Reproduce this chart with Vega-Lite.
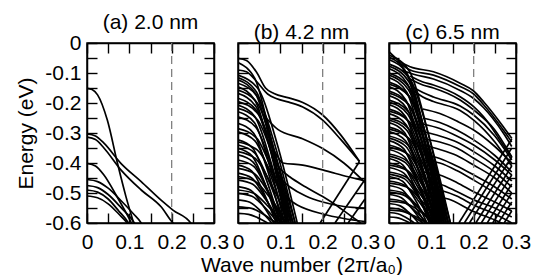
{
"$schema": "https://vega.github.io/schema/vega-lite/v6.json",
"padding": {"left": 15, "top": 11, "right": 5, "bottom": 5},
"spacing": 24,
"bounds": "flush",
"config": {
 "font": "Liberation Sans",
 "view": {"stroke": "black", "strokeWidth": 1.5},
 "axis": {"domain": true, "domainColor": "black", "domainWidth": 1.5, "ticks": true, "grid": false, "labelFont": "Liberation Sans", "labelFontSize": 21, "labelColor": "black", "tickColor": "black", "tickWidth": 1.4, "tickOpacity": 1, "titleFont": "Liberation Sans", "titleFontSize": 21, "titleFontWeight": "normal", "titleColor": "black", "labelFlush": false, "labelOverlap": false},
 "title": {"font": "Liberation Sans", "fontSize": 21, "fontWeight": "normal", "color": "black", "offset": -1}
},
"datasets": {"d": [
{"p":"a","b":1,"k":0,"e":-0.151},{"p":"a","b":1,"k":0.012,"e":-0.155},{"p":"a","b":1,"k":0.025,"e":-0.173},{"p":"a","b":1,"k":0.048,"e":-0.257},{"p":"a","b":1,"k":0.072,"e":-0.401},{"p":"a","b":1,"k":0.092,"e":-0.512},{"p":"a","b":1,"k":0.11,"e":-0.6},{"p":"a","b":1,"k":0.114,"e":-0.62},
{"p":"a","b":2,"k":0,"e":-0.303},{"p":"a","b":2,"k":0.02,"e":-0.31},{"p":"a","b":2,"k":0.04,"e":-0.334},{"p":"a","b":2,"k":0.08,"e":-0.401},{"p":"a","b":2,"k":0.128,"e":-0.462},{"p":"a","b":2,"k":0.175,"e":-0.524},{"p":"a","b":2,"k":0.203,"e":-0.557},{"p":"a","b":2,"k":0.245,"e":-0.6},{"p":"a","b":2,"k":0.25,"e":-0.61},
{"p":"a","b":3,"k":0,"e":-0.314},{"p":"a","b":3,"k":0.02,"e":-0.322},{"p":"a","b":3,"k":0.04,"e":-0.35},{"p":"a","b":3,"k":0.08,"e":-0.423},{"p":"a","b":3,"k":0.128,"e":-0.49},{"p":"a","b":3,"k":0.175,"e":-0.546},{"p":"a","b":3,"k":0.203,"e":-0.6},{"p":"a","b":3,"k":0.21,"e":-0.61},
{"p":"a","b":4,"k":0,"e":-0.401},{"p":"a","b":4,"k":0.02,"e":-0.41},{"p":"a","b":4,"k":0.04,"e":-0.44},{"p":"a","b":4,"k":0.07,"e":-0.51},{"p":"a","b":4,"k":0.09,"e":-0.56},{"p":"a","b":4,"k":0.105,"e":-0.6},{"p":"a","b":4,"k":0.11,"e":-0.615},
{"p":"a","b":5,"k":0,"e":-0.455},{"p":"a","b":5,"k":0.025,"e":-0.462},{"p":"a","b":5,"k":0.05,"e":-0.484},{"p":"a","b":5,"k":0.08,"e":-0.525},{"p":"a","b":5,"k":0.11,"e":-0.57},{"p":"a","b":5,"k":0.128,"e":-0.6},{"p":"a","b":5,"k":0.132,"e":-0.61},
{"p":"a","b":6,"k":0,"e":-0.475},{"p":"a","b":6,"k":0.025,"e":-0.482},{"p":"a","b":6,"k":0.05,"e":-0.505},{"p":"a","b":6,"k":0.08,"e":-0.548},{"p":"a","b":6,"k":0.112,"e":-0.6},{"p":"a","b":6,"k":0.116,"e":-0.61},
{"p":"a","b":7,"k":0,"e":-0.49},{"p":"a","b":7,"k":0.025,"e":-0.497},{"p":"a","b":7,"k":0.05,"e":-0.52},{"p":"a","b":7,"k":0.075,"e":-0.56},{"p":"a","b":7,"k":0.098,"e":-0.6},{"p":"a","b":7,"k":0.102,"e":-0.61},
{"p":"a","b":8,"k":0,"e":-0.51},{"p":"a","b":8,"k":0.025,"e":-0.516},{"p":"a","b":8,"k":0.05,"e":-0.536},{"p":"a","b":8,"k":0.075,"e":-0.57},{"p":"a","b":8,"k":0.095,"e":-0.6},{"p":"a","b":8,"k":0.1,"e":-0.61},

{"p":"b","b":1,"k":0,"e":-0.051},{"p":"b","b":1,"k":0.02,"e":-0.058},{"p":"b","b":1,"k":0.045,"e":-0.1},{"p":"b","b":1,"k":0.065,"e":-0.15},{"p":"b","b":1,"k":0.085,"e":-0.168},{"p":"b","b":1,"k":0.12,"e":-0.183},{"p":"b","b":1,"k":0.153,"e":-0.198},{"p":"b","b":1,"k":0.2,"e":-0.24},{"p":"b","b":1,"k":0.243,"e":-0.307},{"p":"b","b":1,"k":0.287,"e":-0.395},
{"p":"b","b":2,"k":0,"e":-0.09},{"p":"b","b":2,"k":0.02,"e":-0.096},{"p":"b","b":2,"k":0.045,"e":-0.13},{"p":"b","b":2,"k":0.07,"e":-0.17},{"p":"b","b":2,"k":0.09,"e":-0.185},{"p":"b","b":2,"k":0.12,"e":-0.197},{"p":"b","b":2,"k":0.153,"e":-0.213},{"p":"b","b":2,"k":0.2,"e":-0.257},{"p":"b","b":2,"k":0.243,"e":-0.322},{"p":"b","b":2,"k":0.287,"e":-0.395},
{"p":"b","b":3,"k":0,"e":-0.107},{"p":"b","b":3,"k":0.049,"e":-0.156},{"p":"b","b":3,"k":0.091,"e":-0.329},{"p":"b","b":3,"k":0.14,"e":-0.6},
{"p":"b","b":4,"k":0,"e":-0.123},{"p":"b","b":4,"k":0.042,"e":-0.171},{"p":"b","b":4,"k":0.078,"e":-0.338},{"p":"b","b":4,"k":0.12,"e":-0.6},
{"p":"b","b":5,"k":0,"e":-0.134},{"p":"b","b":5,"k":0.047,"e":-0.181},{"p":"b","b":5,"k":0.088,"e":-0.344},{"p":"b","b":5,"k":0.135,"e":-0.6},
{"p":"b","b":6,"k":0,"e":-0.146},{"p":"b","b":6,"k":0.04,"e":-0.191},{"p":"b","b":6,"k":0.075,"e":-0.35},{"p":"b","b":6,"k":0.115,"e":-0.6},
{"p":"b","b":7,"k":0,"e":-0.157},{"p":"b","b":7,"k":0.046,"e":-0.201},{"p":"b","b":7,"k":0.085,"e":-0.356},{"p":"b","b":7,"k":0.13,"e":-0.6},
{"p":"b","b":8,"k":0,"e":-0.168},{"p":"b","b":8,"k":0.042,"e":-0.211},{"p":"b","b":8,"k":0.078,"e":-0.362},{"p":"b","b":8,"k":0.12,"e":-0.6},
{"p":"b","b":9,"k":0,"e":-0.184},{"p":"b","b":9,"k":0.044,"e":-0.226},{"p":"b","b":9,"k":0.081,"e":-0.371},{"p":"b","b":9,"k":0.125,"e":-0.6},
{"p":"b","b":10,"k":0,"e":-0.207},{"p":"b","b":10,"k":0.04,"e":-0.246},{"p":"b","b":10,"k":0.075,"e":-0.384},{"p":"b","b":10,"k":0.115,"e":-0.6},
{"p":"b","b":11,"k":0,"e":-0.218},{"p":"b","b":11,"k":0.046,"e":-0.256},{"p":"b","b":11,"k":0.085,"e":-0.39},{"p":"b","b":11,"k":0.13,"e":-0.6},
{"p":"b","b":12,"k":0,"e":-0.229},{"p":"b","b":12,"k":0.039,"e":-0.266},{"p":"b","b":12,"k":0.072,"e":-0.396},{"p":"b","b":12,"k":0.11,"e":-0.6},
{"p":"b","b":13,"k":0,"e":-0.246},{"p":"b","b":13,"k":0.042,"e":-0.281},{"p":"b","b":13,"k":0.078,"e":-0.405},{"p":"b","b":13,"k":0.12,"e":-0.6},
{"p":"b","b":14,"k":0,"e":-0.268},{"p":"b","b":14,"k":0.037,"e":-0.301},{"p":"b","b":14,"k":0.068,"e":-0.417},{"p":"b","b":14,"k":0.105,"e":-0.6},
{"p":"b","b":15,"k":0,"e":-0.296},{"p":"b","b":15,"k":0.04,"e":-0.326},{"p":"b","b":15,"k":0.075,"e":-0.433},{"p":"b","b":15,"k":0.115,"e":-0.6},
{"p":"b","b":16,"k":0,"e":-0.323},{"p":"b","b":16,"k":0.035,"e":-0.351},{"p":"b","b":16,"k":0.065,"e":-0.448},{"p":"b","b":16,"k":0.1,"e":-0.6},
{"p":"b","b":17,"k":0,"e":-0.34},{"p":"b","b":17,"k":0.039,"e":-0.366},{"p":"b","b":17,"k":0.072,"e":-0.457},{"p":"b","b":17,"k":0.11,"e":-0.6},
{"p":"b","b":18,"k":0,"e":-0.351},{"p":"b","b":18,"k":0.033,"e":-0.376},{"p":"b","b":18,"k":0.062,"e":-0.463},{"p":"b","b":18,"k":0.095,"e":-0.6},
{"p":"b","b":19,"k":0,"e":-0.362},{"p":"b","b":19,"k":0.042,"e":-0.386},{"p":"b","b":19,"k":0.078,"e":-0.469},{"p":"b","b":19,"k":0.12,"e":-0.6},
{"p":"b","b":20,"k":0,"e":-0.373},{"p":"b","b":20,"k":0.035,"e":-0.396},{"p":"b","b":20,"k":0.065,"e":-0.475},{"p":"b","b":20,"k":0.1,"e":-0.6},
{"p":"b","b":21,"k":0,"e":-0.39},{"p":"b","b":21,"k":0.037,"e":-0.411},{"p":"b","b":21,"k":0.068,"e":-0.485},{"p":"b","b":21,"k":0.105,"e":-0.6},
{"p":"b","b":22,"k":0,"e":-0.407},{"p":"b","b":22,"k":0.032,"e":-0.426},{"p":"b","b":22,"k":0.059,"e":-0.494},{"p":"b","b":22,"k":0.09,"e":-0.6},
{"p":"b","b":23,"k":0,"e":-0.418},{"p":"b","b":23,"k":0.039,"e":-0.436},{"p":"b","b":23,"k":0.072,"e":-0.5},{"p":"b","b":23,"k":0.11,"e":-0.6},
{"p":"b","b":24,"k":0,"e":-0.434},{"p":"b","b":24,"k":0.033,"e":-0.451},{"p":"b","b":24,"k":0.062,"e":-0.509},{"p":"b","b":24,"k":0.095,"e":-0.6},
{"p":"b","b":25,"k":0,"e":-0.457},{"p":"b","b":25,"k":0.035,"e":-0.471},{"p":"b","b":25,"k":0.065,"e":-0.521},{"p":"b","b":25,"k":0.1,"e":-0.6},
{"p":"b","b":26,"k":0,"e":-0.479},{"p":"b","b":26,"k":0.03,"e":-0.491},{"p":"b","b":26,"k":0.055,"e":-0.533},{"p":"b","b":26,"k":0.085,"e":-0.6},
{"p":"b","b":27,"k":0,"e":-0.501},{"p":"b","b":27,"k":0.033,"e":-0.511},{"p":"b","b":27,"k":0.062,"e":-0.546},{"p":"b","b":27,"k":0.095,"e":-0.6},
{"p":"b","b":28,"k":0,"e":-0.523},{"p":"b","b":28,"k":0.028,"e":-0.531},{"p":"b","b":28,"k":0.052,"e":-0.558},{"p":"b","b":28,"k":0.08,"e":-0.6},
{"p":"b","b":29,"k":0,"e":-0.546},{"p":"b","b":29,"k":0.032,"e":-0.551},{"p":"b","b":29,"k":0.059,"e":-0.57},{"p":"b","b":29,"k":0.09,"e":-0.6},
{"p":"b","b":30,"k":0,"e":-0.568},{"p":"b","b":30,"k":0.025,"e":-0.571},{"p":"b","b":30,"k":0.046,"e":-0.582},{"p":"b","b":30,"k":0.07,"e":-0.6},
{"p":"b","b":51,"k":0,"e":-0.065},{"p":"b","b":51,"k":0.04,"e":-0.119},{"p":"b","b":51,"k":0.075,"e":-0.306},{"p":"b","b":51,"k":0.115,"e":-0.6},
{"p":"b","b":52,"k":0,"e":-0.115},{"p":"b","b":52,"k":0.044,"e":-0.164},{"p":"b","b":52,"k":0.081,"e":-0.333},{"p":"b","b":52,"k":0.125,"e":-0.6},
{"p":"b","b":53,"k":0,"e":-0.195},{"p":"b","b":53,"k":0.047,"e":-0.236},{"p":"b","b":53,"k":0.088,"e":-0.377},{"p":"b","b":53,"k":0.135,"e":-0.6},
{"p":"b","b":54,"k":0,"e":-0.285},{"p":"b","b":54,"k":0.044,"e":-0.317},{"p":"b","b":54,"k":0.081,"e":-0.427},{"p":"b","b":54,"k":0.125,"e":-0.6},
{"p":"b","b":55,"k":0,"e":-0.33},{"p":"b","b":55,"k":0.046,"e":-0.357},{"p":"b","b":55,"k":0.085,"e":-0.452},{"p":"b","b":55,"k":0.13,"e":-0.6},
{"p":"b","b":56,"k":0,"e":-0.445},{"p":"b","b":56,"k":0.04,"e":-0.461},{"p":"b","b":56,"k":0.075,"e":-0.515},{"p":"b","b":56,"k":0.115,"e":-0.6},
{"p":"b","b":57,"k":0,"e":-0.49},{"p":"b","b":57,"k":0.037,"e":-0.501},{"p":"b","b":57,"k":0.068,"e":-0.54},{"p":"b","b":57,"k":0.105,"e":-0.6},
{"p":"b","b":40,"k":0.194,"e":-0.6},{"p":"b","b":40,"k":0.287,"e":-0.395},
{"p":"b","b":41,"k":0.06,"e":-0.24},{"p":"b","b":41,"k":0.094,"e":-0.288},{"p":"b","b":41,"k":0.15,"e":-0.318},{"p":"b","b":41,"k":0.2,"e":-0.352},{"p":"b","b":41,"k":0.25,"e":-0.4},{"p":"b","b":41,"k":0.3,"e":-0.465},
{"p":"b","b":42,"k":0.07,"e":-0.32},{"p":"b","b":42,"k":0.09,"e":-0.37},{"p":"b","b":42,"k":0.106,"e":-0.4},{"p":"b","b":42,"k":0.153,"e":-0.407},{"p":"b","b":42,"k":0.2,"e":-0.423},{"p":"b","b":42,"k":0.26,"e":-0.446},{"p":"b","b":42,"k":0.3,"e":-0.46},
{"p":"b","b":43,"k":0.08,"e":-0.38},{"p":"b","b":43,"k":0.1,"e":-0.42},{"p":"b","b":43,"k":0.122,"e":-0.446},{"p":"b","b":43,"k":0.16,"e":-0.48},{"p":"b","b":43,"k":0.2,"e":-0.512},{"p":"b","b":43,"k":0.231,"e":-0.54},{"p":"b","b":43,"k":0.27,"e":-0.58},{"p":"b","b":43,"k":0.29,"e":-0.6},
{"p":"b","b":44,"k":0.09,"e":-0.44},{"p":"b","b":44,"k":0.122,"e":-0.479},{"p":"b","b":44,"k":0.16,"e":-0.51},{"p":"b","b":44,"k":0.2,"e":-0.53},{"p":"b","b":44,"k":0.25,"e":-0.545},{"p":"b","b":44,"k":0.3,"e":-0.55},
{"p":"b","b":45,"k":0.1,"e":-0.5},{"p":"b","b":45,"k":0.14,"e":-0.54},{"p":"b","b":45,"k":0.2,"e":-0.57},{"p":"b","b":45,"k":0.25,"e":-0.585},{"p":"b","b":45,"k":0.3,"e":-0.595},
{"p":"b","b":46,"k":0.229,"e":-0.6},{"p":"b","b":46,"k":0.3,"e":-0.455},
{"p":"b","b":47,"k":0.26,"e":-0.6},{"p":"b","b":47,"k":0.3,"e":-0.52},

{"p":"c","b":1,"k":0,"e":-0.04},{"p":"c","b":1,"k":0.049,"e":-0.096},{"p":"c","b":1,"k":0.091,"e":-0.292},{"p":"c","b":1,"k":0.14,"e":-0.6},
{"p":"c","b":2,"k":0,"e":-0.055},{"p":"c","b":2,"k":0.046,"e":-0.11},{"p":"c","b":2,"k":0.085,"e":-0.3},{"p":"c","b":2,"k":0.13,"e":-0.6},
{"p":"c","b":3,"k":0,"e":-0.07},{"p":"c","b":3,"k":0.051,"e":-0.123},{"p":"c","b":3,"k":0.094,"e":-0.309},{"p":"c","b":3,"k":0.145,"e":-0.6},
{"p":"c","b":4,"k":0,"e":-0.085},{"p":"c","b":4,"k":0.044,"e":-0.137},{"p":"c","b":4,"k":0.081,"e":-0.317},{"p":"c","b":4,"k":0.125,"e":-0.6},
{"p":"c","b":5,"k":0,"e":-0.1},{"p":"c","b":5,"k":0.049,"e":-0.15},{"p":"c","b":5,"k":0.091,"e":-0.325},{"p":"c","b":5,"k":0.14,"e":-0.6},
{"p":"c","b":6,"k":0,"e":-0.115},{"p":"c","b":6,"k":0.042,"e":-0.164},{"p":"c","b":6,"k":0.078,"e":-0.333},{"p":"c","b":6,"k":0.12,"e":-0.6},
{"p":"c","b":7,"k":0,"e":-0.13},{"p":"c","b":7,"k":0.047,"e":-0.177},{"p":"c","b":7,"k":0.088,"e":-0.342},{"p":"c","b":7,"k":0.135,"e":-0.6},
{"p":"c","b":8,"k":0,"e":-0.145},{"p":"c","b":8,"k":0.04,"e":-0.191},{"p":"c","b":8,"k":0.075,"e":-0.35},{"p":"c","b":8,"k":0.115,"e":-0.6},
{"p":"c","b":9,"k":0,"e":-0.16},{"p":"c","b":9,"k":0.046,"e":-0.204},{"p":"c","b":9,"k":0.085,"e":-0.358},{"p":"c","b":9,"k":0.13,"e":-0.6},
{"p":"c","b":10,"k":0,"e":-0.175},{"p":"c","b":10,"k":0.042,"e":-0.218},{"p":"c","b":10,"k":0.078,"e":-0.366},{"p":"c","b":10,"k":0.12,"e":-0.6},
{"p":"c","b":11,"k":0,"e":-0.19},{"p":"c","b":11,"k":0.047,"e":-0.231},{"p":"c","b":11,"k":0.088,"e":-0.375},{"p":"c","b":11,"k":0.135,"e":-0.6},
{"p":"c","b":12,"k":0,"e":-0.205},{"p":"c","b":12,"k":0.039,"e":-0.245},{"p":"c","b":12,"k":0.072,"e":-0.383},{"p":"c","b":12,"k":0.11,"e":-0.6},
{"p":"c","b":13,"k":0,"e":-0.22},{"p":"c","b":13,"k":0.044,"e":-0.258},{"p":"c","b":13,"k":0.081,"e":-0.391},{"p":"c","b":13,"k":0.125,"e":-0.6},
{"p":"c","b":14,"k":0,"e":-0.235},{"p":"c","b":14,"k":0.04,"e":-0.272},{"p":"c","b":14,"k":0.075,"e":-0.399},{"p":"c","b":14,"k":0.115,"e":-0.6},
{"p":"c","b":15,"k":0,"e":-0.25},{"p":"c","b":15,"k":0.046,"e":-0.285},{"p":"c","b":15,"k":0.085,"e":-0.408},{"p":"c","b":15,"k":0.13,"e":-0.6},
{"p":"c","b":16,"k":0,"e":-0.265},{"p":"c","b":16,"k":0.037,"e":-0.299},{"p":"c","b":16,"k":0.068,"e":-0.416},{"p":"c","b":16,"k":0.105,"e":-0.6},
{"p":"c","b":17,"k":0,"e":-0.28},{"p":"c","b":17,"k":0.042,"e":-0.312},{"p":"c","b":17,"k":0.078,"e":-0.424},{"p":"c","b":17,"k":0.12,"e":-0.6},
{"p":"c","b":18,"k":0,"e":-0.295},{"p":"c","b":18,"k":0.039,"e":-0.326},{"p":"c","b":18,"k":0.072,"e":-0.432},{"p":"c","b":18,"k":0.11,"e":-0.6},
{"p":"c","b":19,"k":0,"e":-0.31},{"p":"c","b":19,"k":0.044,"e":-0.339},{"p":"c","b":19,"k":0.081,"e":-0.441},{"p":"c","b":19,"k":0.125,"e":-0.6},
{"p":"c","b":20,"k":0,"e":-0.325},{"p":"c","b":20,"k":0.035,"e":-0.353},{"p":"c","b":20,"k":0.065,"e":-0.449},{"p":"c","b":20,"k":0.1,"e":-0.6},
{"p":"c","b":21,"k":0,"e":-0.34},{"p":"c","b":21,"k":0.04,"e":-0.366},{"p":"c","b":21,"k":0.075,"e":-0.457},{"p":"c","b":21,"k":0.115,"e":-0.6},
{"p":"c","b":22,"k":0,"e":-0.355},{"p":"c","b":22,"k":0.037,"e":-0.38},{"p":"c","b":22,"k":0.068,"e":-0.465},{"p":"c","b":22,"k":0.105,"e":-0.6},
{"p":"c","b":23,"k":0,"e":-0.37},{"p":"c","b":23,"k":0.042,"e":-0.393},{"p":"c","b":23,"k":0.078,"e":-0.474},{"p":"c","b":23,"k":0.12,"e":-0.6},
{"p":"c","b":24,"k":0,"e":-0.385},{"p":"c","b":24,"k":0.033,"e":-0.407},{"p":"c","b":24,"k":0.062,"e":-0.482},{"p":"c","b":24,"k":0.095,"e":-0.6},
{"p":"c","b":25,"k":0,"e":-0.4},{"p":"c","b":25,"k":0.039,"e":-0.42},{"p":"c","b":25,"k":0.072,"e":-0.49},{"p":"c","b":25,"k":0.11,"e":-0.6},
{"p":"c","b":26,"k":0,"e":-0.415},{"p":"c","b":26,"k":0.035,"e":-0.434},{"p":"c","b":26,"k":0.065,"e":-0.498},{"p":"c","b":26,"k":0.1,"e":-0.6},
{"p":"c","b":27,"k":0,"e":-0.43},{"p":"c","b":27,"k":0.04,"e":-0.447},{"p":"c","b":27,"k":0.075,"e":-0.507},{"p":"c","b":27,"k":0.115,"e":-0.6},
{"p":"c","b":28,"k":0,"e":-0.445},{"p":"c","b":28,"k":0.032,"e":-0.461},{"p":"c","b":28,"k":0.059,"e":-0.515},{"p":"c","b":28,"k":0.09,"e":-0.6},
{"p":"c","b":29,"k":0,"e":-0.46},{"p":"c","b":29,"k":0.037,"e":-0.474},{"p":"c","b":29,"k":0.068,"e":-0.523},{"p":"c","b":29,"k":0.105,"e":-0.6},
{"p":"c","b":30,"k":0,"e":-0.475},{"p":"c","b":30,"k":0.03,"e":-0.488},{"p":"c","b":30,"k":0.055,"e":-0.531},{"p":"c","b":30,"k":0.085,"e":-0.6},
{"p":"c","b":31,"k":0,"e":-0.49},{"p":"c","b":31,"k":0.035,"e":-0.501},{"p":"c","b":31,"k":0.065,"e":-0.54},{"p":"c","b":31,"k":0.1,"e":-0.6},
{"p":"c","b":32,"k":0,"e":-0.505},{"p":"c","b":32,"k":0.028,"e":-0.515},{"p":"c","b":32,"k":0.052,"e":-0.548},{"p":"c","b":32,"k":0.08,"e":-0.6},
{"p":"c","b":33,"k":0,"e":-0.52},{"p":"c","b":33,"k":0.032,"e":-0.528},{"p":"c","b":33,"k":0.059,"e":-0.556},{"p":"c","b":33,"k":0.09,"e":-0.6},
{"p":"c","b":34,"k":0,"e":-0.535},{"p":"c","b":34,"k":0.025,"e":-0.542},{"p":"c","b":34,"k":0.046,"e":-0.564},{"p":"c","b":34,"k":0.07,"e":-0.6},
{"p":"c","b":35,"k":0,"e":-0.55},{"p":"c","b":35,"k":0.028,"e":-0.555},{"p":"c","b":35,"k":0.052,"e":-0.573},{"p":"c","b":35,"k":0.08,"e":-0.6},
{"p":"c","b":36,"k":0,"e":-0.565},{"p":"c","b":36,"k":0.021,"e":-0.569},{"p":"c","b":36,"k":0.039,"e":-0.581},{"p":"c","b":36,"k":0.06,"e":-0.6},
{"p":"c","b":37,"k":0,"e":-0.58},{"p":"c","b":37,"k":0.018,"e":-0.582},{"p":"c","b":37,"k":0.033,"e":-0.589},{"p":"c","b":37,"k":0.05,"e":-0.6},
{"p":"c","b":51,"k":0,"e":-0.047},{"p":"c","b":51,"k":0.042,"e":-0.102},{"p":"c","b":51,"k":0.078,"e":-0.296},{"p":"c","b":51,"k":0.12,"e":-0.6},
{"p":"c","b":52,"k":0,"e":-0.077},{"p":"c","b":52,"k":0.047,"e":-0.129},{"p":"c","b":52,"k":0.088,"e":-0.312},{"p":"c","b":52,"k":0.135,"e":-0.6},
{"p":"c","b":53,"k":0,"e":-0.107},{"p":"c","b":53,"k":0.046,"e":-0.156},{"p":"c","b":53,"k":0.085,"e":-0.329},{"p":"c","b":53,"k":0.13,"e":-0.6},
{"p":"c","b":54,"k":0,"e":-0.137},{"p":"c","b":54,"k":0.051,"e":-0.183},{"p":"c","b":54,"k":0.094,"e":-0.345},{"p":"c","b":54,"k":0.145,"e":-0.6},
{"p":"c","b":55,"k":0,"e":-0.167},{"p":"c","b":55,"k":0.049,"e":-0.21},{"p":"c","b":55,"k":0.091,"e":-0.362},{"p":"c","b":55,"k":0.14,"e":-0.6},
{"p":"c","b":56,"k":0,"e":-0.197},{"p":"c","b":56,"k":0.044,"e":-0.237},{"p":"c","b":56,"k":0.081,"e":-0.378},{"p":"c","b":56,"k":0.125,"e":-0.6},
{"p":"c","b":57,"k":0,"e":-0.227},{"p":"c","b":57,"k":0.049,"e":-0.264},{"p":"c","b":57,"k":0.091,"e":-0.395},{"p":"c","b":57,"k":0.14,"e":-0.6},
{"p":"c","b":58,"k":0,"e":-0.257},{"p":"c","b":58,"k":0.042,"e":-0.291},{"p":"c","b":58,"k":0.078,"e":-0.411},{"p":"c","b":58,"k":0.12,"e":-0.6},
{"p":"c","b":59,"k":0,"e":-0.287},{"p":"c","b":59,"k":0.047,"e":-0.318},{"p":"c","b":59,"k":0.088,"e":-0.428},{"p":"c","b":59,"k":0.135,"e":-0.6},
{"p":"c","b":60,"k":0,"e":-0.317},{"p":"c","b":60,"k":0.04,"e":-0.345},{"p":"c","b":60,"k":0.075,"e":-0.444},{"p":"c","b":60,"k":0.115,"e":-0.6},
{"p":"c","b":61,"k":0,"e":-0.347},{"p":"c","b":61,"k":0.046,"e":-0.372},{"p":"c","b":61,"k":0.085,"e":-0.461},{"p":"c","b":61,"k":0.13,"e":-0.6},
{"p":"c","b":62,"k":0,"e":-0.377},{"p":"c","b":62,"k":0.039,"e":-0.399},{"p":"c","b":62,"k":0.072,"e":-0.477},{"p":"c","b":62,"k":0.11,"e":-0.6},
{"p":"c","b":63,"k":0,"e":-0.407},{"p":"c","b":63,"k":0.044,"e":-0.426},{"p":"c","b":63,"k":0.081,"e":-0.494},{"p":"c","b":63,"k":0.125,"e":-0.6},
{"p":"c","b":64,"k":0,"e":-0.437},{"p":"c","b":64,"k":0.037,"e":-0.453},{"p":"c","b":64,"k":0.068,"e":-0.51},{"p":"c","b":64,"k":0.105,"e":-0.6},
{"p":"c","b":65,"k":0,"e":-0.467},{"p":"c","b":65,"k":0.042,"e":-0.48},{"p":"c","b":65,"k":0.078,"e":-0.527},{"p":"c","b":65,"k":0.12,"e":-0.6},
{"p":"c","b":66,"k":0,"e":-0.497},{"p":"c","b":66,"k":0.035,"e":-0.507},{"p":"c","b":66,"k":0.065,"e":-0.543},{"p":"c","b":66,"k":0.1,"e":-0.6},
{"p":"c","b":67,"k":0,"e":-0.527},{"p":"c","b":67,"k":0.039,"e":-0.534},{"p":"c","b":67,"k":0.072,"e":-0.56},{"p":"c","b":67,"k":0.11,"e":-0.6},
{"p":"c","b":68,"k":0,"e":-0.557},{"p":"c","b":68,"k":0.032,"e":-0.561},{"p":"c","b":68,"k":0.059,"e":-0.576},{"p":"c","b":68,"k":0.09,"e":-0.6},
{"p":"c","b":101,"k":0,"e":-0.029},{"p":"c","b":101,"k":0.026,"e":-0.062},{"p":"c","b":101,"k":0.05,"e":-0.079},{"p":"c","b":101,"k":0.105,"e":-0.096},{"p":"c","b":101,"k":0.168,"e":-0.134},{"p":"c","b":101,"k":0.2,"e":-0.16},{"p":"c","b":101,"k":0.223,"e":-0.195},{"p":"c","b":101,"k":0.27,"e":-0.279},{"p":"c","b":101,"k":0.29,"e":-0.318},
{"p":"c","b":102,"k":0.02,"e":-0.06},{"p":"c","b":102,"k":0.05,"e":-0.09},{"p":"c","b":102,"k":0.105,"e":-0.107},{"p":"c","b":102,"k":0.168,"e":-0.145},{"p":"c","b":102,"k":0.2,"e":-0.17},{"p":"c","b":102,"k":0.223,"e":-0.205},{"p":"c","b":102,"k":0.27,"e":-0.29},{"p":"c","b":102,"k":0.29,"e":-0.33},
{"p":"c","b":103,"k":0.03,"e":-0.09},{"p":"c","b":103,"k":0.06,"e":-0.105},{"p":"c","b":103,"k":0.105,"e":-0.12},{"p":"c","b":103,"k":0.168,"e":-0.158},{"p":"c","b":103,"k":0.2,"e":-0.185},{"p":"c","b":103,"k":0.223,"e":-0.215},{"p":"c","b":103,"k":0.27,"e":-0.3},{"p":"c","b":103,"k":0.29,"e":-0.345},
{"p":"c","b":104,"k":0.05,"e":-0.11},{"p":"c","b":104,"k":0.08,"e":-0.13},{"p":"c","b":104,"k":0.105,"e":-0.14},{"p":"c","b":104,"k":0.168,"e":-0.179},{"p":"c","b":104,"k":0.2,"e":-0.212},{"p":"c","b":104,"k":0.223,"e":-0.245},{"p":"c","b":104,"k":0.278,"e":-0.357},{"p":"c","b":104,"k":0.29,"e":-0.38},
{"p":"c","b":105,"k":0.05,"e":-0.12},{"p":"c","b":105,"k":0.08,"e":-0.14},{"p":"c","b":105,"k":0.105,"e":-0.15},{"p":"c","b":105,"k":0.168,"e":-0.19},{"p":"c","b":105,"k":0.2,"e":-0.223},{"p":"c","b":105,"k":0.25,"e":-0.29},{"p":"c","b":105,"k":0.29,"e":-0.38},
{"p":"c","b":106,"k":0.06,"e":-0.15},{"p":"c","b":106,"k":0.08,"e":-0.165},{"p":"c","b":106,"k":0.105,"e":-0.18},{"p":"c","b":106,"k":0.168,"e":-0.21},{"p":"c","b":106,"k":0.2,"e":-0.24},{"p":"c","b":106,"k":0.25,"e":-0.31},{"p":"c","b":106,"k":0.29,"e":-0.39},
{"p":"c","b":107,"k":0.06,"e":-0.16},{"p":"c","b":107,"k":0.08,"e":-0.18},{"p":"c","b":107,"k":0.105,"e":-0.195},{"p":"c","b":107,"k":0.168,"e":-0.225},{"p":"c","b":107,"k":0.2,"e":-0.257},{"p":"c","b":107,"k":0.25,"e":-0.33},{"p":"c","b":107,"k":0.29,"e":-0.41},
{"p":"c","b":111,"k":0.08,"e":-0.22},{"p":"c","b":111,"k":0.12,"e":-0.235},{"p":"c","b":111,"k":0.16,"e":-0.26},{"p":"c","b":111,"k":0.2,"e":-0.29},{"p":"c","b":111,"k":0.25,"e":-0.345},{"p":"c","b":111,"k":0.29,"e":-0.4},
{"p":"c","b":112,"k":0.08,"e":-0.25},{"p":"c","b":112,"k":0.12,"e":-0.265},{"p":"c","b":112,"k":0.16,"e":-0.29},{"p":"c","b":112,"k":0.2,"e":-0.323},{"p":"c","b":112,"k":0.25,"e":-0.375},{"p":"c","b":112,"k":0.29,"e":-0.43},
{"p":"c","b":113,"k":0.08,"e":-0.27},{"p":"c","b":113,"k":0.12,"e":-0.285},{"p":"c","b":113,"k":0.16,"e":-0.31},{"p":"c","b":113,"k":0.2,"e":-0.34},{"p":"c","b":113,"k":0.25,"e":-0.39},{"p":"c","b":113,"k":0.29,"e":-0.44},
{"p":"c","b":114,"k":0.08,"e":-0.295},{"p":"c","b":114,"k":0.12,"e":-0.31},{"p":"c","b":114,"k":0.16,"e":-0.33},{"p":"c","b":114,"k":0.2,"e":-0.362},{"p":"c","b":114,"k":0.25,"e":-0.41},{"p":"c","b":114,"k":0.29,"e":-0.46},
{"p":"c","b":115,"k":0.08,"e":-0.32},{"p":"c","b":115,"k":0.12,"e":-0.33},{"p":"c","b":115,"k":0.16,"e":-0.35},{"p":"c","b":115,"k":0.2,"e":-0.384},{"p":"c","b":115,"k":0.25,"e":-0.43},{"p":"c","b":115,"k":0.29,"e":-0.48},
{"p":"c","b":116,"k":0.08,"e":-0.34},{"p":"c","b":116,"k":0.12,"e":-0.355},{"p":"c","b":116,"k":0.16,"e":-0.375},{"p":"c","b":116,"k":0.2,"e":-0.407},{"p":"c","b":116,"k":0.25,"e":-0.45},{"p":"c","b":116,"k":0.29,"e":-0.5},
{"p":"c","b":117,"k":0.08,"e":-0.37},{"p":"c","b":117,"k":0.12,"e":-0.385},{"p":"c","b":117,"k":0.16,"e":-0.41},{"p":"c","b":117,"k":0.2,"e":-0.44},{"p":"c","b":117,"k":0.25,"e":-0.48},{"p":"c","b":117,"k":0.29,"e":-0.52},
{"p":"c","b":118,"k":0.08,"e":-0.39},{"p":"c","b":118,"k":0.12,"e":-0.4},{"p":"c","b":118,"k":0.16,"e":-0.425},{"p":"c","b":118,"k":0.2,"e":-0.457},{"p":"c","b":118,"k":0.25,"e":-0.5},{"p":"c","b":118,"k":0.29,"e":-0.54},
{"p":"c","b":119,"k":0.08,"e":-0.43},{"p":"c","b":119,"k":0.12,"e":-0.44},{"p":"c","b":119,"k":0.16,"e":-0.465},{"p":"c","b":119,"k":0.2,"e":-0.496},{"p":"c","b":119,"k":0.25,"e":-0.53},{"p":"c","b":119,"k":0.29,"e":-0.56},
{"p":"c","b":120,"k":0.09,"e":-0.46},{"p":"c","b":120,"k":0.12,"e":-0.47},{"p":"c","b":120,"k":0.16,"e":-0.495},{"p":"c","b":120,"k":0.2,"e":-0.523},{"p":"c","b":120,"k":0.25,"e":-0.55},{"p":"c","b":120,"k":0.29,"e":-0.58},
{"p":"c","b":121,"k":0.09,"e":-0.48},{"p":"c","b":121,"k":0.12,"e":-0.49},{"p":"c","b":121,"k":0.16,"e":-0.51},{"p":"c","b":121,"k":0.2,"e":-0.54},{"p":"c","b":121,"k":0.25,"e":-0.57},{"p":"c","b":121,"k":0.29,"e":-0.6},
{"p":"c","b":122,"k":0.1,"e":-0.51},{"p":"c","b":122,"k":0.14,"e":-0.52},{"p":"c","b":122,"k":0.2,"e":-0.562},{"p":"c","b":122,"k":0.25,"e":-0.59},{"p":"c","b":122,"k":0.28,"e":-0.61},
{"p":"c","b":131,"k":0.165,"e":-0.6},{"p":"c","b":131,"k":0.29,"e":-0.32},
{"p":"c","b":132,"k":0.178,"e":-0.6},{"p":"c","b":132,"k":0.29,"e":-0.35},
{"p":"c","b":133,"k":0.19,"e":-0.6},{"p":"c","b":133,"k":0.29,"e":-0.38},
{"p":"c","b":134,"k":0.205,"e":-0.6},{"p":"c","b":134,"k":0.29,"e":-0.41},
{"p":"c","b":135,"k":0.218,"e":-0.6},{"p":"c","b":135,"k":0.29,"e":-0.44},
{"p":"c","b":136,"k":0.232,"e":-0.6},{"p":"c","b":136,"k":0.29,"e":-0.47},
{"p":"c","b":137,"k":0.245,"e":-0.6},{"p":"c","b":137,"k":0.29,"e":-0.5},
{"p":"c","b":138,"k":0.258,"e":-0.6},{"p":"c","b":138,"k":0.29,"e":-0.53},
{"p":"c","b":139,"k":0.272,"e":-0.6},{"p":"c","b":139,"k":0.29,"e":-0.56}
]},
"hconcat": [
 {"width": 127, "height": 180, "title": {"text": "(a) 2.0 nm"},
  "layer": [
   {"data": {"name": "d"}, "transform": [{"filter": "datum.p == 'a'"}],
    "mark": {"type": "line", "clip": true, "interpolate": "monotone", "color": "black", "strokeWidth": 1.7},
    "encoding": {
     "x": {"field": "k", "type": "quantitative", "scale": {"domain": [0, 0.3], "nice": false, "zero": false},
       "axis": {"orient": "bottom", "title": null, "values": [0,0.05,0.1,0.15,0.2,0.25,0.3], "tickSize": -10, "labelPadding": 18, "labelExpr": "round(datum.value*20)%2==0 ? format(datum.value, '.1~f') : ''"}},
     "y": {"field": "e", "type": "quantitative", "scale": {"domain": [-0.6, 0], "nice": false, "zero": false},
       "axis": {"orient": "left", "title": "Energy (eV)", "titlePadding": 8, "values": [0,-0.05,-0.1,-0.15,-0.2,-0.25,-0.3,-0.35,-0.4,-0.45,-0.5,-0.55,-0.6], "tickSize": -10, "labelPadding": 16, "labelExpr": "round(datum.value*20)%2==0 ? (datum.value < 0 ? '-' + format(-datum.value, '.1~f') : '0') : ''"}},
     "detail": {"field": "b"}}},
   {"data": {"values": [{"k": 0.2}]}, "mark": {"type": "rule", "color": "#808080", "strokeWidth": 1.3, "strokeDash": [8, 5]},
    "encoding": {"x": {"field": "k", "type": "quantitative", "axis": {"orient": "top", "title": null, "values": [0,0.05,0.1,0.15,0.2,0.25,0.3], "tickSize": -10, "labels": false}}}},
   {"data": {"name": "d"}, "transform": [{"filter": "datum.p == 'a'"}], "mark": {"type": "point", "opacity": 0},
    "encoding": {"y": {"field": "e", "type": "quantitative", "axis": {"orient": "right", "title": null, "values": [0,-0.05,-0.1,-0.15,-0.2,-0.25,-0.3,-0.35,-0.4,-0.45,-0.5,-0.55,-0.6], "tickSize": -10, "labels": false}}}}
  ],
  "resolve": {"axis": {"x": "independent", "y": "independent"}}
 },
 {"width": 127, "height": 180, "title": {"text": "(b) 4.2 nm"},
  "layer": [
   {"data": {"name": "d"}, "transform": [{"filter": "datum.p == 'b'"}],
    "mark": {"type": "line", "clip": true, "interpolate": "monotone", "color": "black", "strokeWidth": 1.7},
    "encoding": {
     "x": {"field": "k", "type": "quantitative", "scale": {"domain": [0, 0.3], "nice": false, "zero": false},
       "axis": {"orient": "bottom", "title": "Wave number (2π/a₀)", "titlePadding": 2, "values": [0,0.05,0.1,0.15,0.2,0.25,0.3], "tickSize": -10, "labelPadding": 18, "labelExpr": "round(datum.value*20)%2==0 ? format(datum.value, '.1~f') : ''"}},
     "y": {"field": "e", "type": "quantitative", "scale": {"domain": [-0.6, 0], "nice": false, "zero": false},
       "axis": {"orient": "left", "title": null, "values": [0,-0.05,-0.1,-0.15,-0.2,-0.25,-0.3,-0.35,-0.4,-0.45,-0.5,-0.55,-0.6], "tickSize": -10, "labels": false}},
     "detail": {"field": "b"}}},
   {"data": {"values": [{"k": 0.2}]}, "mark": {"type": "rule", "color": "#808080", "strokeWidth": 1.3, "strokeDash": [8, 5]},
    "encoding": {"x": {"field": "k", "type": "quantitative", "axis": {"orient": "top", "title": null, "values": [0,0.05,0.1,0.15,0.2,0.25,0.3], "tickSize": -10, "labels": false}}}},
   {"data": {"name": "d"}, "transform": [{"filter": "datum.p == 'b'"}], "mark": {"type": "point", "opacity": 0},
    "encoding": {"y": {"field": "e", "type": "quantitative", "axis": {"orient": "right", "title": null, "values": [0,-0.05,-0.1,-0.15,-0.2,-0.25,-0.3,-0.35,-0.4,-0.45,-0.5,-0.55,-0.6], "tickSize": -10, "labels": false}}}}
  ],
  "resolve": {"axis": {"x": "independent", "y": "independent"}}
 },
 {"width": 127, "height": 180, "title": {"text": "(c) 6.5 nm"},
  "layer": [
   {"data": {"name": "d"}, "transform": [{"filter": "datum.p == 'c'"}],
    "mark": {"type": "line", "clip": true, "interpolate": "monotone", "color": "black", "strokeWidth": 1.7},
    "encoding": {
     "x": {"field": "k", "type": "quantitative", "scale": {"domain": [0, 0.3], "nice": false, "zero": false},
       "axis": {"orient": "bottom", "title": null, "values": [0,0.05,0.1,0.15,0.2,0.25,0.3], "tickSize": -10, "labelPadding": 18, "labelExpr": "round(datum.value*20)%2==0 ? format(datum.value, '.1~f') : ''"}},
     "y": {"field": "e", "type": "quantitative", "scale": {"domain": [-0.6, 0], "nice": false, "zero": false},
       "axis": {"orient": "left", "title": null, "values": [0,-0.05,-0.1,-0.15,-0.2,-0.25,-0.3,-0.35,-0.4,-0.45,-0.5,-0.55,-0.6], "tickSize": -10, "labels": false}},
     "detail": {"field": "b"}}},
   {"data": {"values": [{"k": 0.2}]}, "mark": {"type": "rule", "color": "#808080", "strokeWidth": 1.3, "strokeDash": [8, 5]},
    "encoding": {"x": {"field": "k", "type": "quantitative", "axis": {"orient": "top", "title": null, "values": [0,0.05,0.1,0.15,0.2,0.25,0.3], "tickSize": -10, "labels": false}}}},
   {"data": {"name": "d"}, "transform": [{"filter": "datum.p == 'c'"}], "mark": {"type": "point", "opacity": 0},
    "encoding": {"y": {"field": "e", "type": "quantitative", "axis": {"orient": "right", "title": null, "values": [0,-0.05,-0.1,-0.15,-0.2,-0.25,-0.3,-0.35,-0.4,-0.45,-0.5,-0.55,-0.6], "tickSize": -10, "labels": false}}}}
  ],
  "resolve": {"axis": {"x": "independent", "y": "independent"}}
 }
]
}
